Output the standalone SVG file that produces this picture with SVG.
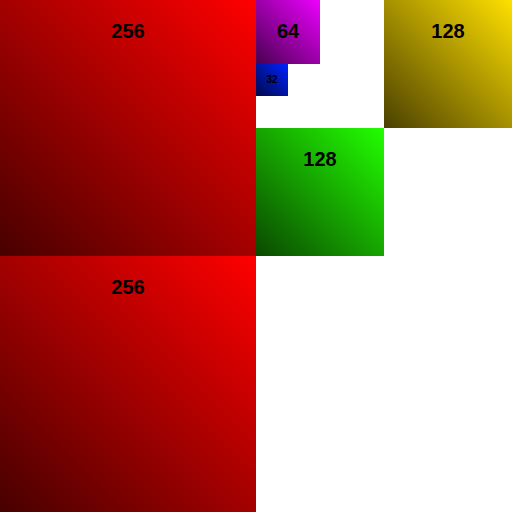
<svg xmlns="http://www.w3.org/2000/svg" width="512" height="512" viewBox="0 0 512 512">
<style>
text{font-family:"Liberation Sans",Arial,sans-serif;font-weight:bold;fill:#000;text-anchor:middle;dominant-baseline:central}
.l{font-size:20px}
.s{font-size:10px}
</style>
<defs>
<linearGradient id="gr" x1="1" y1="0" x2="0" y2="1"><stop offset="0" stop-color="#ff0000"/><stop offset="1" stop-color="#480000"/></linearGradient>
<linearGradient id="gy" x1="1" y1="0" x2="0" y2="1"><stop offset="0" stop-color="#ffe000"/><stop offset="1" stop-color="#4a4000"/></linearGradient>
<linearGradient id="gg" x1="1" y1="0" x2="0" y2="1"><stop offset="0" stop-color="#22ff00"/><stop offset="1" stop-color="#0a4800"/></linearGradient>
<linearGradient id="gm" x1="1" y1="0" x2="0" y2="1"><stop offset="0" stop-color="#ee00ff"/><stop offset="1" stop-color="#480050"/></linearGradient>
<linearGradient id="gb" x1="1" y1="0" x2="0" y2="1"><stop offset="0" stop-color="#0022ff"/><stop offset="1" stop-color="#000848"/></linearGradient>
</defs>
<rect width="512" height="512" fill="#fff"/>
<g id="r256a"><rect x="0" y="0" width="256" height="256" fill="url(#gr)"/><text class="l" x="128" y="31">256</text></g>
<g id="r256b"><rect x="0" y="256" width="256" height="256" fill="url(#gr)"/><text class="l" x="128" y="287">256</text></g>
<g id="m64"><rect x="256" y="0" width="64" height="64" fill="url(#gm)"/><text class="l" x="288" y="31">64</text></g>
<g id="b32"><rect x="256" y="64" width="32" height="32" fill="url(#gb)"/><text class="s" x="272" y="79">32</text></g>
<g id="y128"><rect x="384" y="0" width="128" height="128" fill="url(#gy)"/><text class="l" x="448" y="31">128</text></g>
<g id="g128"><rect x="256" y="128" width="128" height="128" fill="url(#gg)"/><text class="l" x="320" y="159">128</text></g>
<g id="connectors"></g>
</svg>
